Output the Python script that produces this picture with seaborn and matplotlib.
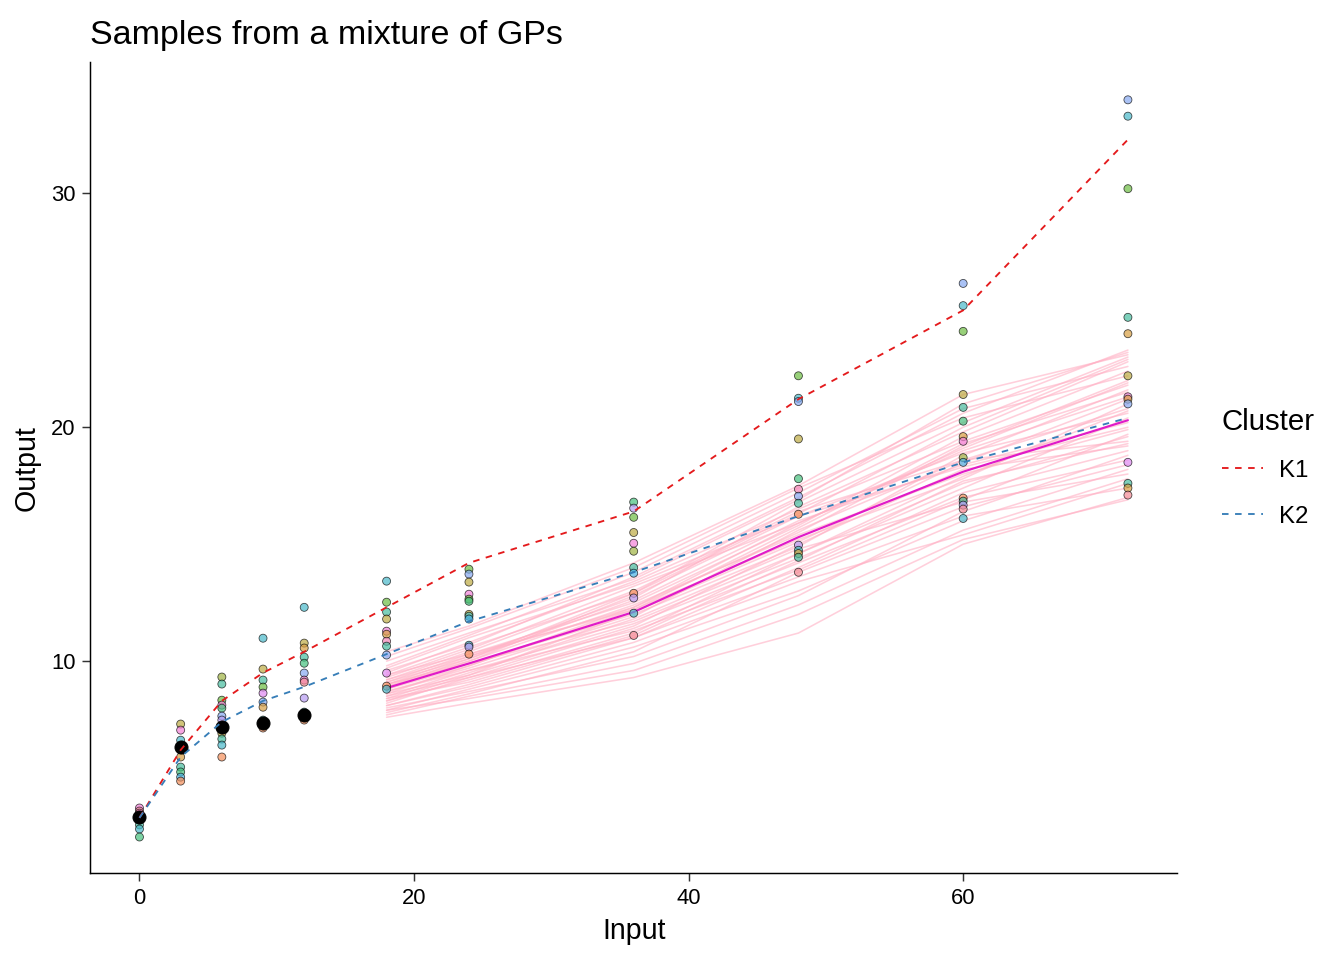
import numpy as np
import pandas as pd
import matplotlib
matplotlib.use("Agg")
import matplotlib.pyplot as plt
import seaborn as sns

# input grid of the samples
grid = [18, 24, 36, 48, 60, 72]

# GP sample curves (one row per sample)
curves = [
    [7.6, 8.2, 9.3, 11.2, 15.0, 17.0],
    [7.7, 8.5, 9.9, 12.4, 15.6, 17.8],
    [7.9, 8.8, 10.6, 13.0, 16.0, 18.2],
    [8.0, 8.7, 10.2, 12.8, 16.4, 18.8],
    [8.1, 9.0, 11.0, 13.6, 16.2, 17.4],
    [8.2, 9.3, 11.4, 14.2, 17.0, 18.6],
    [8.3, 9.2, 11.2, 14.6, 17.6, 19.6],
    [8.4, 9.5, 11.8, 14.8, 16.8, 18.0],
    [8.5, 9.6, 11.6, 14.4, 17.4, 20.4],
    [8.6, 9.4, 11.5, 15.0, 18.2, 19.2],
    [8.6, 9.8, 12.2, 15.2, 17.8, 21.0],
    [8.7, 9.7, 11.9, 15.6, 18.6, 20.8],
    [8.8, 10.0, 12.4, 15.4, 18.0, 19.9],
    [8.9, 9.9, 12.0, 14.9, 18.8, 21.6],
    [8.9, 10.1, 12.6, 16.0, 18.4, 20.2],
    [9.0, 10.2, 12.3, 15.5, 19.2, 22.0],
    [9.0, 10.0, 12.8, 16.2, 18.9, 20.6],
    [9.1, 10.3, 12.5, 15.8, 19.6, 22.4],
    [9.2, 10.4, 13.0, 16.4, 18.6, 19.4],
    [9.2, 10.2, 12.7, 16.6, 19.8, 22.8],
    [9.3, 10.5, 13.2, 15.9, 19.0, 21.3],
    [9.4, 10.6, 12.9, 16.8, 20.2, 23.0],
    [9.5, 10.8, 13.4, 16.5, 19.4, 21.8],
    [9.6, 10.7, 13.6, 17.0, 20.6, 23.3],
    [9.7, 11.0, 13.3, 16.2, 18.3, 20.0],
    [9.8, 11.1, 13.8, 17.2, 20.8, 22.6],
    [10.0, 11.2, 13.5, 16.9, 21.0, 23.2],
    [10.2, 11.4, 14.0, 17.4, 20.4, 22.2],
    [10.4, 11.5, 14.2, 17.5, 21.4, 23.1],
    [8.1, 8.9, 10.8, 13.4, 15.4, 17.6],
    [7.8, 8.6, 10.4, 13.8, 16.6, 18.4],
    [8.5, 9.3, 11.0, 14.0, 17.2, 19.0],
    [9.0, 9.9, 11.7, 14.6, 17.9, 20.7],
    [8.3, 9.4, 12.1, 15.1, 18.5, 21.2],
    [9.4, 10.3, 12.2, 15.7, 19.3, 21.5],
    [8.7, 9.6, 11.3, 13.9, 16.9, 19.7],
    [7.9, 8.4, 9.6, 12.0, 15.2, 16.9],
    [8.8, 9.8, 12.3, 15.9, 19.1, 21.9],
    [9.1, 10.1, 12.9, 16.3, 20.0, 22.9],
    [8.4, 9.1, 11.1, 14.3, 17.7, 19.3],
]
mean_curve = [8.85, 9.9, 12.1, 15.3, 18.1, 20.3]

# cluster mean functions
clus_x = [0, 3, 6, 9, 12, 18, 24, 36, 48, 60, 72]
k1 = [3.3, 6.2, 8.3, 9.5, 10.4, 12.3, 14.2, 16.4, 21.2, 25.0, 32.3]
k2 = [3.3, 5.9, 7.4, 8.3, 8.9, 10.3, 11.7, 13.8, 16.2, 18.5, 20.4]

# observed data
obs_x = [0, 3, 6, 9, 12]
obs_y = [3.33, 6.32, 7.18, 7.35, 7.7]

# simulated points per input (value, colour index)
pts = {
    0: ([3.72, 3.59, 3.5, 3.2, 3.0, 2.82, 2.48], [14, 0, 15, 12, 7, 9, 6]),
    3: ([7.31, 7.05, 6.62, 6.2, 5.9, 5.47, 5.26, 5.04, 4.87], [3, 14, 9, 12, 2, 7, 6, 10, 1]),
    6: ([9.32, 9.02, 8.33, 8.12, 7.99, 7.65, 7.48, 6.92, 6.67, 6.41, 5.9], [4, 7, 5, 14, 6, 11, 12, 3, 7, 9, 1]),
    9: ([10.98, 9.66, 9.19, 8.89, 8.63, 8.25, 8.03, 7.48, 7.35, 7.14], [9, 3, 7, 5, 13, 11, 2, 8, 9, 1]),
    12: ([12.3, 10.77, 10.56, 10.17, 9.91, 9.49, 9.19, 9.1, 8.42, 7.82, 7.6, 7.48], [9, 3, 2, 7, 6, 11, 14, 0, 12, 8, 1, 1]),
    18: ([13.42, 12.52, 12.1, 11.8, 11.28, 11.15, 10.85, 10.64, 10.26, 9.49, 8.93, 8.8], [9, 5, 7, 3, 14, 2, 15, 7, 11, 13, 1, 9]),
    24: ([13.93, 13.72, 13.38, 12.86, 12.65, 12.56, 12.0, 11.92, 11.8, 10.68, 10.6, 10.3], [5, 11, 3, 14, 5, 6, 3, 8, 10, 9, 12, 1]),
    36: ([16.8, 16.54, 16.15, 15.5, 15.04, 14.7, 14.0, 13.76, 12.9, 12.7, 12.05, 11.1], [6, 12, 5, 3, 14, 4, 7, 10, 1, 12, 9, 0]),
    48: ([22.2, 21.24, 21.1, 19.5, 17.8, 17.35, 17.05, 16.75, 16.28, 14.96, 14.74, 14.6, 14.44, 13.8], [5, 9, 11, 3, 6, 15, 11, 7, 1, 12, 8, 2, 7, 0]),
    60: ([26.15, 25.2, 24.1, 21.4, 20.85, 20.26, 19.6, 19.4, 18.7, 18.5, 16.97, 16.84, 16.67, 16.5, 16.1], [11, 9, 5, 3, 7, 6, 2, 14, 4, 10, 1, 7, 12, 0, 9]),
    72: ([34.0, 33.3, 30.2, 24.7, 24.0, 22.2, 21.3, 21.2, 21.0, 18.5, 17.6, 17.4, 17.1], [11, 9, 5, 7, 2, 3, 14, 2, 11, 13, 7, 2, 0]),
}

sns.set_theme(style="ticks")
plt.rcParams['font.family'] = ['Liberation Sans', 'DejaVu Sans']
plt.rcParams['text.color'] = 'black'
plt.rcParams['axes.labelcolor'] = 'black'

rows = []
for i, c in enumerate(curves):
    for x, y in zip(grid, c):
        rows.append({'sample': i, 'x': x, 'y': y})
df_curves = pd.DataFrame(rows)
df_mean = pd.DataFrame({'x': grid, 'y': mean_curve})
df_clus = pd.DataFrame({'x': clus_x * 2, 'y': k1 + k2,
                        'Cluster': ['K1'] * len(k1) + ['K2'] * len(k2)})
df_obs = pd.DataFrame({'x': obs_x, 'y': obs_y})
prow = []
for x, (vals, cols) in pts.items():
    for v, c in zip(vals, cols):
        prow.append({'x': x, 'y': v, 'col': c})
df_pts = pd.DataFrame(prow)

pal = sns.husl_palette(16, h=0.02, s=0.85, l=0.7)
pal_dict = {i: pal[i] for i in range(16)}

fig = plt.figure(figsize=(14, 10), dpi=96)
ax = fig.add_axes([0.067, 0.0906, 0.809, 0.8444])

sns.lineplot(data=df_curves, x='x', y='y', units='sample', estimator=None,
             color='#FFB0C4', alpha=0.6, lw=1.2, legend=False, ax=ax, zorder=1)
sns.lineplot(data=df_mean, x='x', y='y', color='#E01BC8', lw=1.6,
             legend=False, ax=ax, zorder=2)
sns.scatterplot(data=df_pts, x='x', y='y', hue='col', palette=pal_dict,
                s=36, alpha=0.7, edgecolor='black', linewidth=0.6,
                legend=False, ax=ax, zorder=3)
sns.scatterplot(data=df_obs, x='x', y='y', color='black', s=95,
                edgecolor='black', legend=False, ax=ax, zorder=4)
sns.lineplot(data=df_clus, x='x', y='y', hue='Cluster', style='Cluster',
             palette={'K1': '#E41A1C', 'K2': '#377EB8'},
             dashes={'K1': (3.5, 3.5), 'K2': (3.5, 3.5)}, lw=1.4, ax=ax, zorder=5)

ax.set_xlim(-3.6, 75.6)
ax.set_ylim(0.94, 35.6)
ax.set_xticks([0, 20, 40, 60])
ax.set_yticks([10, 20, 30])
ax.tick_params(labelsize=16.5, length=6, width=1.1, color='#333333',
               labelcolor='black', pad=5)
sns.despine(ax=ax)
for s in ['left', 'bottom']:
    ax.spines[s].set_linewidth(1.1)
    ax.spines[s].set_color('black')

ax.set_xlabel('Input', fontsize=21.5, labelpad=6)
ax.set_ylabel('Output', fontsize=21.5, labelpad=8)
ax.set_title('Samples from a mixture of GPs', fontsize=25.5, loc='left', pad=14)

h, l = ax.get_legend_handles_labels()
keep = [(hh, ll) for hh, ll in zip(h, l) if ll in ('K1', 'K2')]
ax.legend([k[0] for k in keep], [k[1] for k in keep], title='Cluster',
          loc='center left', bbox_to_anchor=(1.021, 0.5), frameon=False,
          fontsize=18, title_fontsize=22, handlelength=1.7, handletextpad=0.7,
          labelspacing=1.0, alignment='left')

fig.savefig('out.png', dpi=96)
